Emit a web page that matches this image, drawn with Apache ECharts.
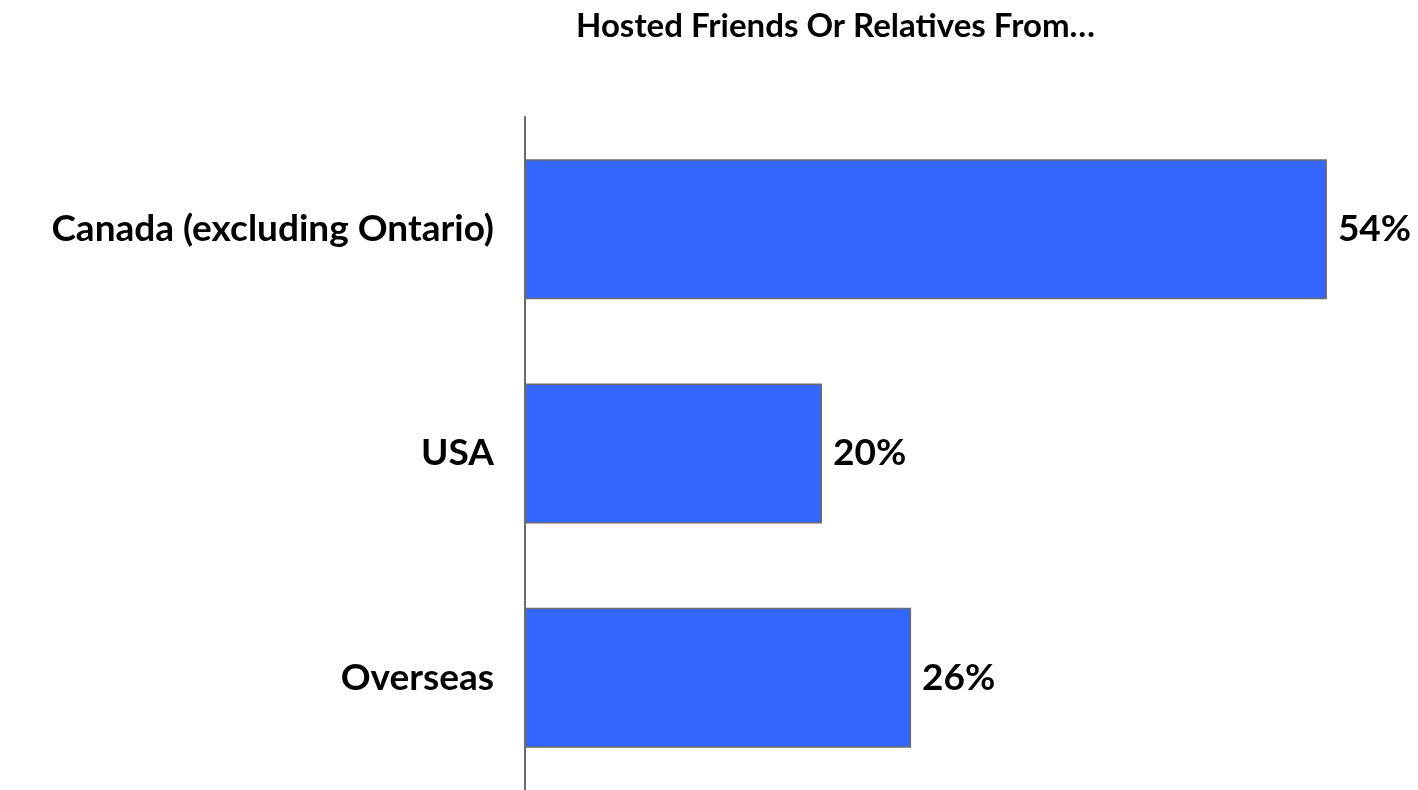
<!DOCTYPE html>
<html>
<head>
<meta charset="utf-8">
<script src="https://cdn.jsdelivr.net/npm/echarts@6/dist/echarts.min.js"></script>
<style>
html,body{margin:0;padding:0;background:#fff;}
#chart{width:1418px;height:790px;}
</style>
</head>
<body>
<div id="chart"></div>
<script>
const titleText = 'Hosted Friends Or Relatives From…';
const categories = ['Canada (excluding Ontario)', 'USA', 'Overseas'];
const values = [54, 20, 26];
const valueSuffix = '%';

const FONT = 'Lato, "Open Sans", sans-serif';
const chart = echarts.init(document.getElementById('chart'), null, {renderer: 'canvas'});
chart.setOption({
  backgroundColor: '#ffffff',
  animation: false,
  title: {
    text: titleText,
    left: 571,
    top: 5,
    textStyle: {fontFamily: FONT, fontWeight: 'bold', fontSize: 33, color: '#000'}
  },
  grid: {left: 525, top: 117, width: 891, height: 678, containLabel: false},
  xAxis: {
    type: 'value', min: 0, max: 60,
    show: false
  },
  yAxis: {
    type: 'category',
    data: categories,
    inverse: true,
    axisLine: {show: true, lineStyle: {color: '#6b6b6b', width: 2}},
    axisTick: {show: false},
    axisLabel: {fontFamily: FONT, fontWeight: 'bold', fontSize: 37, color: '#000', margin: 31}
  },
  series: [{
    type: 'bar',
    data: values,
    barCategoryGap: '37.6%',
    itemStyle: {color: '#3366ff', borderColor: '#6b6b6b', borderWidth: 1.5},
    label: {
      show: true, position: 'right', distance: 11,
      formatter: p => p.value + valueSuffix,
      fontFamily: FONT, fontWeight: 'bold', fontSize: 37, color: '#000'
    }
  }]
});
</script>
</body>
</html>
